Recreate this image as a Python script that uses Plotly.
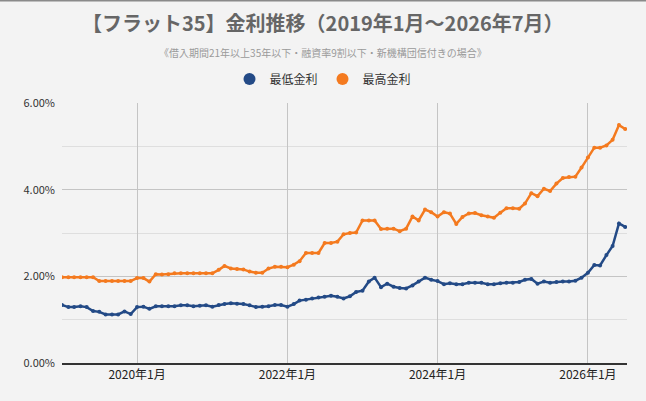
import pandas as pd
import plotly.graph_objects as go

months = pd.date_range("2019-01-01", "2026-07-01", freq="MS")

min_rate = [
    1.34, 1.29, 1.29, 1.31, 1.29, 1.20, 1.18, 1.12, 1.12, 1.12, 1.19, 1.13,
    1.29, 1.30, 1.25, 1.31, 1.31, 1.31, 1.31, 1.33, 1.33, 1.31, 1.32, 1.33,
    1.30, 1.34, 1.36, 1.38, 1.37, 1.36, 1.33, 1.29, 1.30, 1.31, 1.34, 1.34,
    1.30, 1.36, 1.44, 1.46, 1.49, 1.51, 1.53, 1.55, 1.53, 1.49, 1.54, 1.64,
    1.67, 1.88, 1.97, 1.75, 1.83, 1.76, 1.73, 1.72, 1.79, 1.88, 1.97, 1.92,
    1.89, 1.82, 1.84, 1.82, 1.82, 1.85, 1.85, 1.85, 1.82, 1.82, 1.84, 1.85,
    1.85, 1.87, 1.92, 1.94, 1.83, 1.88, 1.85, 1.87, 1.88, 1.88, 1.90, 1.97,
    2.08, 2.26, 2.25, 2.49, 2.70, 3.22, 3.14,
]

max_rate = [
    1.98, 1.98, 1.98, 1.98, 1.98, 1.98, 1.89, 1.89, 1.89, 1.89, 1.89, 1.89,
    1.96, 1.96, 1.88, 2.05, 2.04, 2.05, 2.07, 2.07, 2.07, 2.07, 2.07, 2.07,
    2.07, 2.15, 2.24, 2.18, 2.17, 2.16, 2.11, 2.08, 2.08, 2.18, 2.22, 2.22,
    2.21, 2.27, 2.35, 2.54, 2.54, 2.54, 2.77, 2.77, 2.80, 2.97, 3.00, 3.01,
    3.29, 3.29, 3.29, 3.09, 3.10, 3.10, 3.04, 3.10, 3.38, 3.29, 3.54, 3.48,
    3.38, 3.48, 3.45, 3.21, 3.37, 3.45, 3.46, 3.41, 3.38, 3.35, 3.47, 3.57,
    3.57, 3.56, 3.68, 3.92, 3.85, 4.02, 3.97, 4.14, 4.27, 4.29, 4.30, 4.51,
    4.74, 4.97, 4.97, 5.02, 5.15, 5.49, 5.40,
]

series_names = ["最低金利", "最高金利"]
series_colors = ["#234a86", "#f47a1f"]
tick_dates = ["2020-01-01", "2022-01-01", "2024-01-01", "2026-01-01"]
tick_labels = ["2020年1月", "2022年1月", "2024年1月", "2026年1月"]
y_ticks = [0, 2, 4, 6]
y_tick_labels = ["0.00%", "2.00%", "4.00%", "6.00%"]

title_text = "【フラット35】金利推移（2019年1月～2026年7月）"
subtitle_text = "《借入期間21年以上35年以下・融資率9割以下・新機構団信付きの場合》"

FONT = "Noto Sans CJK JP, Noto Sans, sans-serif"
W, H = 646, 401
ML, MR, MT, MB = 62, 19, 103, 38
PH = H - MT - MB
PW = W - ML - MR

fig = go.Figure()
for name, vals, col in zip(series_names, [min_rate, max_rate], series_colors):
    fig.add_trace(go.Scatter(
        x=months, y=vals, mode="lines+markers", name=name,
        line=dict(color=col, width=2.5),
        marker=dict(color=col, size=4),
        showlegend=False, hoverinfo="x+y",
    ))
for name, col in zip(series_names, series_colors):
    fig.add_trace(go.Scatter(
        x=[None], y=[None], mode="markers", name=name,
        marker=dict(color=col, size=12, symbol="circle"),
    ))

def py(pix):
    return (H - MB - pix) / PH

def px(pix):
    return (pix - ML) / PW

fig.update_layout(
    width=W, height=H,
    margin=dict(l=ML, r=MR, t=MT, b=MB, pad=0),
    paper_bgcolor="#f3f3f3", plot_bgcolor="#f3f3f3",
    font=dict(family=FONT, color="#333333", size=12),
    showlegend=True,
    legend=dict(
        orientation="h", x=px(323), xanchor="center", y=py(79), yanchor="middle",
        font=dict(size=12, color="#333333"), bgcolor="rgba(0,0,0,0)",
        itemwidth=30, traceorder="normal",
    ),
    xaxis=dict(
        range=[months[0], pd.Timestamp("2026-07-10")],
        tickvals=tick_dates, ticktext=tick_labels,
        showgrid=True, gridcolor="#c4c4c4", gridwidth=1,
        showline=True, linecolor="#333333", linewidth=1.5,
        ticks="", tickfont=dict(size=12, color="#222222"),
        zeroline=False,
    ),
    yaxis=dict(
        range=[0, 6], tickvals=y_ticks, ticktext=y_tick_labels,
        showgrid=True, gridcolor="#c4c4c4", gridwidth=1,
        minor=dict(dtick=1, showgrid=True, gridcolor="#dedede", gridwidth=1),
        zeroline=False, ticks="", tickfont=dict(size=11, color="#333333"),
        showline=False, ticklabelstandoff=6,
    ),
    annotations=[
        dict(text="<b>" + title_text + "</b>", xref="paper", yref="paper",
             x=px(323), y=py(22), xanchor="center", yanchor="middle",
             showarrow=False, font=dict(size=20, color="#666666", family=FONT)),
        dict(text=subtitle_text, xref="paper", yref="paper",
             x=px(323), y=py(52), xanchor="center", yanchor="middle",
             showarrow=False, font=dict(size=10, color="#9a9a9a", family=FONT)),
    ],
    shapes=[
        dict(type="line", xref="paper", yref="paper",
             x0=px(0), x1=px(W), y0=py(0.75), y1=py(0.75),
             line=dict(color="#8a8a8a", width=1.5)),
    ],
)

fig.write_html("out.html")
